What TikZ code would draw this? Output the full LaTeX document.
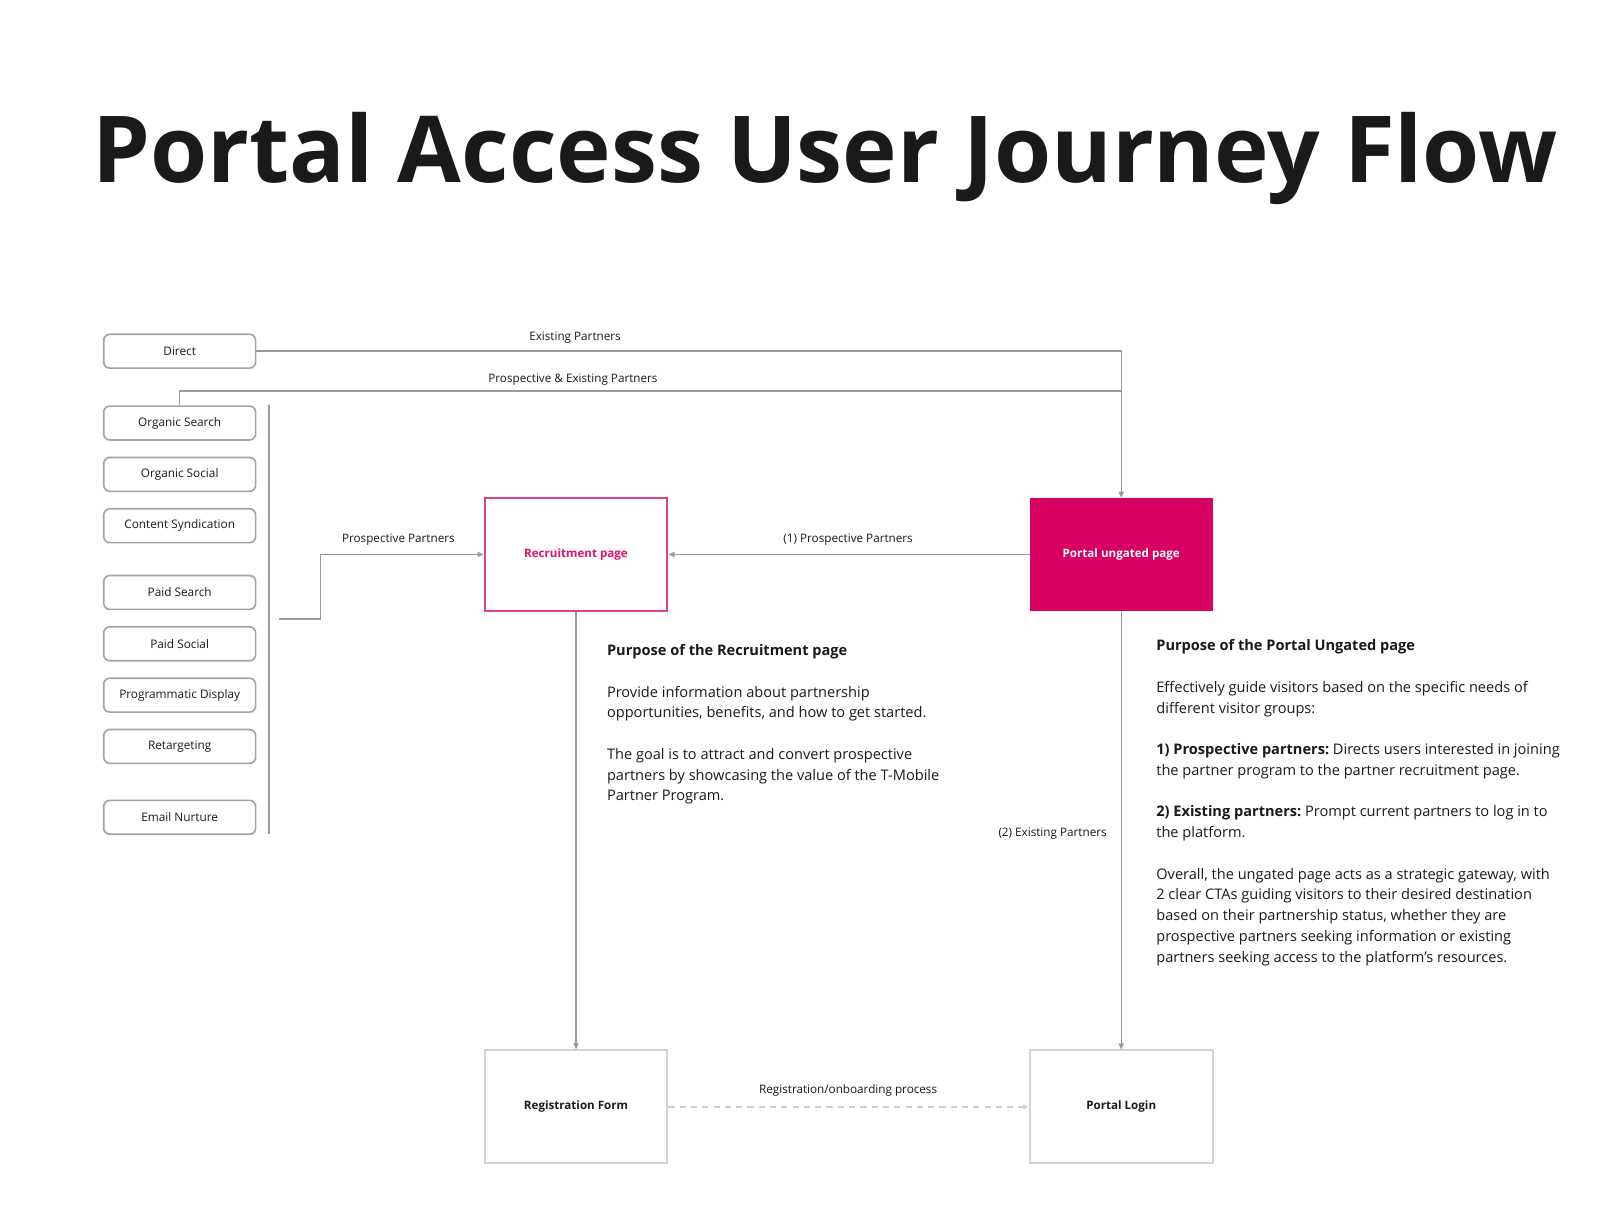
\documentclass[tikz,border=0pt]{standalone}
\usepackage{fontspec}
\setmainfont{Open Sans}
\usetikzlibrary{arrows.meta}
\definecolor{ink}{HTML}{1A1A1A}
\definecolor{linegray}{HTML}{9A9A9A}
\definecolor{boxgray}{HTML}{A3A3A3}
\definecolor{lightbox}{HTML}{D4D4D4}
\definecolor{dashgray}{HTML}{CFCFCF}
\definecolor{magenta}{HTML}{D80062}
\definecolor{pinkline}{HTML}{E6408A}
\definecolor{pinktext}{HTML}{E0106C}
\tikzset{
  srcbox/.style={draw=boxgray, line width=1.6pt, rounded corners=6pt, minimum width=148pt, minimum height=33pt, inner sep=0pt, font=\fontsize{11.5}{13}\selectfont, text=ink},
  pagebox/.style={minimum width=178pt, minimum height=110pt, inner sep=0pt, font=\bfseries\fontsize{11.3}{13}\selectfont},
  lbl/.style={font=\fontsize{11.4}{13}\selectfont, text=ink, inner sep=0pt},
  body/.style={font=\fontsize{14.2}{20.2}\selectfont, text=ink, inner sep=0pt, align=left},
  conn/.style={draw=linegray, line width=1.4pt, -{Triangle[length=6pt,width=5pt]}},
  plain/.style={draw=linegray, line width=1.4pt},
}
\begin{document}
\begin{tikzpicture}[x=1pt,y=-1pt]
\useasboundingbox[fill=white] (0,0) rectangle (1568,1196);

\node[font=\bfseries\fontsize{90}{90}\selectfont, anchor=base west, text=ink, inner sep=0pt] (title) at (90,178) {Portal Access User Journey Flow};

% source boxes
\node[srcbox] (direct) at (175,342) {Direct};
\node[srcbox] (osearch) at (175,412) {Organic Search};
\node[srcbox] (osocial) at (175,462) {Organic Social};
\node[srcbox] (csyn) at (175,512) {Content Syndication};
\node[srcbox] (psearch) at (175,577) {Paid Search};
\node[srcbox] (psocial) at (175,627) {Paid Social};
\node[srcbox] (prog) at (175,677) {Programmatic Display};
\node[srcbox] (retarg) at (175,727) {Retargeting};
\node[srcbox] (email) at (175,796) {Email Nurture};

% pages
\node[pagebox, draw=pinkline, line width=1.8pt, text=pinktext] (rec) at (561,540) {Recruitment page};
\node[pagebox, fill=magenta, text=white] (portal) at (1092,540) {Portal ungated page};
\node[pagebox, draw=lightbox, line width=1.8pt, text=ink] (reg) at (561,1078) {Registration Form};
\node[pagebox, draw=lightbox, line width=1.8pt, text=ink] (login) at (1092,1078) {Portal Login};

% bracket and stub
\coordinate (bt) at (262,394);
\coordinate (bb) at (262,812);
\draw[plain] (bt) -- (bb);
\coordinate (st) at (272,603);
\coordinate (sk) at (312,603);
\draw[conn] (st) -- (sk) |- (rec.west);
\node[lbl] (lpp) at (388,526) {Prospective Partners};

% top connectors
\draw[conn] (direct.east) -| (portal.north);
\node[lbl] (lep) at (560,329) {Existing Partners};
\coordinate (pej) at (1092,381);
\draw[plain] (osearch.north) |- (pej);
\node[lbl] (lpep) at (558,370) {Prospective \& Existing Partners};

% middle connectors
\draw[conn] (portal.west) -- (rec.east);
\node[lbl] (l1pp) at (826,526) {(1) Prospective Partners};
\draw[conn] (rec.south) -- (reg.north);
\draw[conn] (portal.south) -- (login.north);
\node[lbl, anchor=east] (l2ep) at (1078,812) {(2) Existing Partners};
\draw[draw=dashgray, line width=1.4pt, dash pattern=on 6pt off 5pt, -{Triangle[length=6pt,width=5pt]}] (reg.east) -- (login.west);
\node[lbl] (lreg) at (826,1062) {Registration/onboarding process};

% text blocks (base anchor = last line's baseline)
\node[body, anchor=base west] (rectext) at (591,780) {\textbf{Purpose of the Recruitment page}\\[20.2pt]
Provide information about partnership\\
opportunities, benefits, and how to get started.\\[20.2pt]
The goal is to attract and convert prospective\\
partners by showcasing the value of the T-Mobile\\
Partner Program.};

\node[body, anchor=base west] (portaltext) at (1126,937) {\textbf{Purpose of the Portal Ungated page}\\[20.2pt]
Effectively guide visitors based on the specific needs of\\
different visitor groups:\\[20.2pt]
\textbf{1) Prospective partners:}~Directs users interested in joining\\
the partner program to the partner recruitment page.\\[20.2pt]
\textbf{2) Existing partners:}~Prompt current partners to log in to\\
the platform.\\[20.2pt]
Overall, the ungated page acts as a strategic gateway, with\\
2 clear CTAs guiding visitors to their desired destination\\
based on their partnership status, whether they are\\
prospective partners seeking information or existing\\
partners seeking access to the platform's resources.};
\end{tikzpicture}
\end{document}
